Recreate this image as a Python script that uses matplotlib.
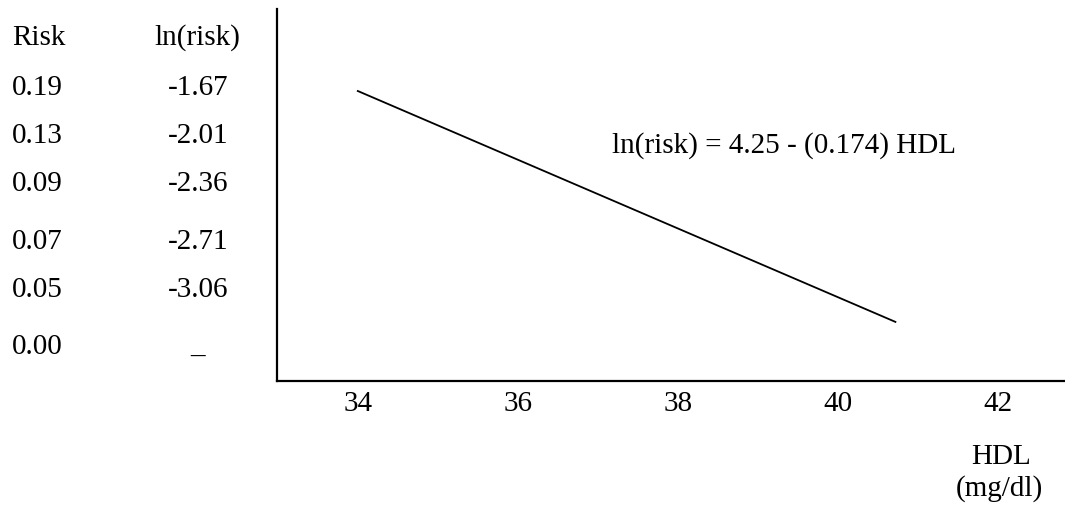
import matplotlib
matplotlib.use('Agg')
from matplotlib import pyplot as plt

plt.rcParams['font.family'] = ['Liberation Serif', 'DejaVu Serif']

# table on the left
risk = ['0.19', '0.13', '0.09', '0.07', '0.05', '0.00']
lnrisk = ['-1.67', '-2.01', '-2.36', '-2.71', '-3.06', '_']
row_base = [95, 143, 191, 249, 297, 354]   # baseline, pixels from the top

# regression line end points
hdl = [34.0, 40.72]
ln_line = [-1.67, -2.83]
xticks = [34, 36, 38, 40, 42]

W, H = 1065, 505
FS = 21
fig = plt.figure(figsize=(W/100, H/100), dpi=100)
ax = fig.add_axes([277/W, 1 - 381/H, 1 - 277/W, 372/H])

ax.plot(hdl, ln_line, color='black', lw=1.3)
ax.set_xlim(32.99, 42.84)
ax.set_ylim(-3.127, -1.258)
ax.set_xticks(xticks)
ax.set_xticklabels([str(t) for t in xticks], fontsize=FS)
ax.tick_params(axis='x', length=0, pad=7)
ax.set_yticks([])
for s in ['top', 'right']:
    ax.spines[s].set_visible(False)
for s in ['left', 'bottom']:
    ax.spines[s].set_linewidth(1.6)

def ftext(x, y, s, ha='left'):
    # x, y in pixels from top-left, y is the baseline
    fig.text(x/W, 1 - y/H, s, fontsize=FS, va='baseline', ha=ha)

ftext(612, 153, 'ln(risk) = 4.25 - (0.174) HDL')

ftext(12, 45, 'Risk')
ftext(197, 45, 'ln(risk)', ha='center')
for r, l, y in zip(risk, lnrisk, row_base):
    ftext(12, y, r)
    ftext(198, y, l, ha='center')

ftext(1001, 464, 'HDL', ha='center')
ftext(999, 496, '(mg/dl)', ha='center')

fig.savefig('out.png', dpi=100)
